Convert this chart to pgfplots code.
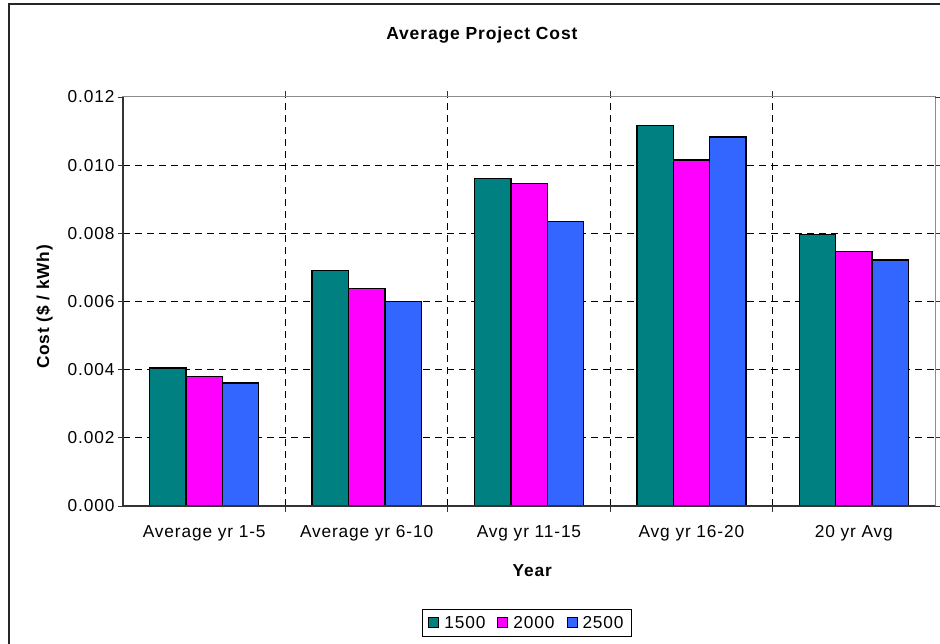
\documentclass[border=0pt]{standalone}
\usepackage{pgfplots}
\pgfplotsset{compat=1.18}
\usepackage{fontspec}
\setmainfont{Liberation Sans}[LetterSpace=5]
\definecolor{cA}{HTML}{008080}
\definecolor{cB}{HTML}{FF00FF}
\definecolor{cC}{HTML}{3366FF}
\begin{document}
\begin{tikzpicture}
\useasboundingbox (-123pt,-138pt) rectangle (817pt,506pt);
\draw[line width=2pt, black!85] (-114pt,-140pt) -- (-114pt,502pt) -- (820pt,502pt);
\begin{axis}[
  at={(0pt,0pt)}, anchor=south west,
  scale only axis, width=812pt, height=409pt,
  font=\fontsize{17.3}{20}\selectfont,
  ybar=0pt, bar width=36.4pt,
  xmin=-0.5, xmax=4.5, ymin=0, ymax=0.012,
  xtick={0,1,2,3,4},
  xticklabels={Average yr 1-5, Average yr 6-10, Avg yr 11-15, Avg yr 16-20, 20 yr Avg},
  minor xtick={0.5,1.5,2.5,3.5},
  extra x ticks={-0.5,4.5},
  extra x tick labels={},
  extra x tick style={grid=none, major tick length=6pt, tick style={draw=black!80, line width=0.8pt}},
  ytick={0,0.002,0.004,0.006,0.008,0.010},
  extra y ticks={0.012},
  extra y tick style={grid=none},
  scaled y ticks=false,
  yticklabel style={/pgf/number format/.cd, fixed, fixed zerofill, precision=3, assume math mode=true},
  tick align=outside,
  major tick length=5pt, minor tick length=6pt,
  x tick style={draw=none},
  minor x tick style={draw=black!80, line width=0.8pt},
  y tick style={draw=black!80, line width=0.8pt},
  xmajorgrids=false, xminorgrids=true, ymajorgrids=true,
  minor x grid style={black, line width=0.8pt, dash pattern=on 7pt off 5pt},
  major y grid style={black, line width=0.8pt, dash pattern=on 7pt off 5pt},
  axis line style={draw=black!45, line width=1pt},
  title={Average Project Cost},
  title style={at={(axis description cs:0.442,1.137)}, anchor=center, font=\fontsize{17.5}{20}\selectfont\bfseries},
  xlabel={Year},
  xlabel style={at={(axis description cs:0.504,-0.159)}, anchor=center, font=\fontsize{17.3}{20}\selectfont\bfseries},
  ylabel={Cost (\$ / kWh)},
  ylabel style={at={(axis description cs:-0.0967,0.487)}, anchor=center, font=\fontsize{17.3}{20}\selectfont\bfseries},
  xticklabel style={yshift=-11pt},
  legend columns=-1,
  legend style={at={(axis description cs:0.4975,-0.286)}, anchor=center, draw=black, line width=1pt,
    font=\fontsize{17.3}{20}\selectfont, inner xsep=6pt, inner ysep=5pt,
    /tikz/every odd column/.append style={column sep=3pt},
    /tikz/every even column/.append style={column sep=10pt}},
  legend image code/.code={\draw[#1, line width=1pt] (0pt,-5pt) rectangle (10pt,5pt);},
  clip=false,
]
\addplot[fill=cA, draw=black, line width=1.4pt] coordinates {(0,0.00405) (1,0.00691) (2,0.00960) (3,0.01117) (4,0.00796)};
\addplot[fill=cB, draw=black, line width=1.4pt] coordinates {(0,0.00380) (1,0.00638) (2,0.00947) (3,0.01015) (4,0.00746)};
\addplot[fill=cC, draw=black, line width=1.4pt] coordinates {(0,0.00361) (1,0.00600) (2,0.00834) (3,0.01083) (4,0.00722)};
\legend{1500,2000,2500}
\draw[black!80, line width=1.2pt] (rel axis cs:0,1) -- (rel axis cs:0,0) -- (rel axis cs:1,0);
\end{axis}
\end{tikzpicture}
\end{document}
